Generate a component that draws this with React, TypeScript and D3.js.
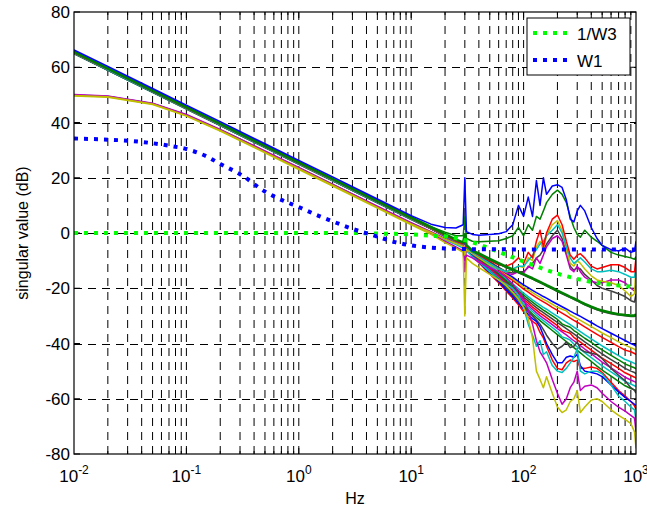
import React from 'react';
import * as d3 from 'd3';

// ---------- data ----------
const FREQ = [0.01,0.02,0.05,0.1,0.2,0.5,1,2,5,10,15,20,25,29,30,31,35,40,50,60,70,80,90,100,110,120,130,140,150,160,180,200,220,240,260,280,300,320,350,400,450,500,600,700,800,900,970,1000];

const TOP_BLUE = [66.3,60.3,52.3,46.3,40.3,32.3,26.3,20.3,12.3,6.3, 3.2,2.0,1.8,3.0,20,0.5,-0.5,-0.8,-0.5,-0.3, 0.5,3,10,6,13,6,19,10,20,14, 17,17.5,16.5,12,5,4,8,10,8,2, -2,-4.5,-6,-6.5,-5.5,-7,-6.5,-3];
const TOP_GREEN = [65.8,59.8,51.8,45.8,39.8,31.8,25.8,19.8,11.8,5.8, 2.3,0.3,-1.0,-1.0,6,-2.0,-3.0,-3.2,-3.0,-2.8, -2.0,-1.0,2,-1,3,1,6,5,8,11, 14,15.5,14,11,6,2,-0.5,-1.5,1,-1.5, -3,-4.5,-7,-8,-8.5,-9,-9.5,-8.5];
const THICK_A = [65.6,59.6,51.6,45.6,39.6,31.6,25.6,19.6,11.6,5.6, 2.1,-0.4,-2.4,-3.4,-0.5,-4.4,-6.4,-7.4,-9.4,-10.9, -12.2,-13.2,-14.1,-14.9,-15.7,-16.4,-17.1,-17.7,-18.3,-18.9, -19.9,-20.9,-21.7,-22.4,-23.1,-23.7,-24.3,-24.9,-25.7,-26.7, -27.5,-28.1,-28.9,-29.4,-29.7,-29.9,-29.9,-29.4];
const THICK_B = [65.4,59.4,51.4,45.4,39.4,31.4,25.4,19.4,11.4,5.4, 1.9,-0.6,-2.6,-3.6,-1.5,-4.6,-6.6,-7.7,-9.7,-11.2, -12.5,-13.5,-14.4,-15.2,-16,-16.7,-17.4,-18,-18.6,-19.2, -20.2,-21.2,-22,-22.7,-23.4,-24,-24.6,-25.2,-26,-27, -27.8,-28.4,-29.2,-29.7,-30,-30.2,-30.2,-29.8];

const BUNDLE_1 = [65.4,59.4,51.4,45.4,39.4,31.4,25.4,19.4,11.4,5.4, 2.0,-0.7,-2.9,-3.9,-2.5,-4.6, -6.5,-8,-10.5,-12.5,-14.5,-16,-17.5,-18.8,-19.8,-20.8, -21.6,-22.3,-23,-23.6,-24.8,-25.8,-26.7,-27.5,-28.3,-29, -29.6,-30.2,-31.1,-32.4,-33.6,-34.6,-36.3,-37.7,-38.9,-40, -40.6,-41];
const BUNDLE_7 = [65.3,59.3,51.3,45.3,39.3,31.3,25.3,19.3,11.3,5.3, 1.9,-0.8,-3.0,-4.0,-2.8,-4.7, -6.6,-8.2,-10.8,-12.9,-15,-16.6,-18.1,-19.5,-20.6,-21.6, -22.5,-23.2,-24,-24.6,-25.8,-26.9,-27.6,-28.2,-29.6,-30.3, -31,-31.6,-32.5,-33.9,-35.1,-36.2,-37.9,-39.4,-40.6,-41.5, -42.1,-42.5];
const BUNDLE_2 = [65.2,59.2,51.2,45.2,39.2,31.2,25.2,19.2,11.2,5.2, 1.9,-0.8,-3.0,-4.0,-3.0,-4.7, -6.8,-8.4,-11.1,-13.3,-15.5,-17.2,-18.8,-20.3,-21.4,-22.5, -23.4,-24.2,-24.9,-25.6,-26.9,-28,-29,-29.9,-30.8,-31.6, -32.3,-33,-34,-35.4,-36.7,-37.8,-39.6,-41.1,-42.4,-43, -43.6,-44];
const BUNDLE_3 = [65.0,59.0,51.0,45.0,39.0,31.0,25.0,19.0,11.0,5.0, 1.8,-0.9,-3.1,-4.1,-3.5,-4.8, -7.1,-8.8,-11.7,-14.1,-16.5,-18.4,-20.1,-21.8,-23,-24.2, -25.2,-26.1,-26.9,-27.6,-29,-30.2,-31.3,-32.3,-33.2,-34.1, -34.9,-35.7,-36.8,-38.3,-39.7,-40.9,-42.8,-44.4,-45.8,-46.6, -47.2,-47.5];
const BUNDLE_8 = [65.1,59.1,51.1,45.1,39.1,31.1,25.1,19.1,11.1,5.1, 1.7,-1.0,-3.2,-4.2,-3.2,-4.9, -7.2,-9,-12,-14.5,-17,-19,-20.8,-22.5,-23.8,-25, -26.1,-27,-27.9,-28.6,-30,-31.3,-32.9,-33.6,-34.1,-35.3, -36.1,-37,-38.1,-39.6,-41.1,-42.3,-44.3,-45.9,-47.4,-48.3, -48.8,-49.2];
const BUNDLE_4 = [65.3,59.3,51.3,45.3,39.3,31.3,25.3,19.3,11.3,5.3, 1.7,-1.0,-3.2,-4.2,-3.0,-4.9, -7.4,-9.2,-12.3,-14.9,-17.5,-19.6,-21.4,-23.3,-24.6,-25.9, -27,-28,-28.8,-29.6,-31.1,-32.4,-33.5,-34.6,-35.6,-36.5, -37.4,-38.2,-39.4,-41,-42.5,-43.8,-45.8,-47.5,-49,-50, -50.5,-51];
const BUNDLE_9 = [65.0,59.0,51.0,45.0,39.0,31.0,25.0,19.0,11.0,5.0, 1.6,-1.1,-3.3,-4.3,-3.8,-5.0, -7.5,-9.4,-12.6,-15.3,-18,-20.2,-22,-24,-25.4,-26.8, -27.9,-29,-29.8,-30.6,-32.2,-33.5,-35.2,-35.8,-36.3,-37.8, -38.7,-39.5,-40.7,-42.4,-43.9,-45.3,-47.3,-49,-50.6,-51.6, -52.2,-52.5];
const BUNDLE_5 = [65.1,59.1,51.1,45.1,39.1,31.1,25.1,19.1,11.1,5.1, 1.6,-1.1,-3.3,-4.3,-4.0,-5.0, -7.7,-9.6,-12.9,-15.7,-18.5,-20.8,-22.7,-24.8,-26.2,-27.6, -28.8,-29.9,-30.8,-31.6,-33.2,-34.6,-35.8,-36.9,-38,-39, -39.9,-40.8,-42,-43.7,-45.3,-46.7,-48.8,-50.6,-52.2,-53.2, -53.8,-54];
const BUNDLE_10 = [64.9,58.9,50.9,44.9,38.9,30.9,24.9,18.9,10.9,4.9, 1.5,-1.2,-3.4,-4.4,-3.6,-5.1, -7.8,-9.8,-13.2,-16.1,-19,-21.4,-23.4,-25.5,-27,-28.4, -29.7,-30.8,-31.7,-32.6,-34.2,-35.7,-37.6,-38.1,-38.8,-40.2, -41.2,-42.1,-43.3,-45.1,-46.7,-48.1,-50.3,-52.1,-53.7,-54.7, -55.3,-55.6];
const BUNDLE_6 = [64.9,58.9,50.9,44.9,38.9,30.9,24.9,18.9,10.9,4.9, 1.5,-1.2,-3.4,-4.4,-3.5,-5.1, -8,-10,-13.5,-16.5,-19.5,-22,-24,-26.3,-27.8,-29.3, -30.6,-31.7,-32.7,-33.6,-35.3,-36.8,-38.1,-39.3,-40.4,-41.5, -42.5,-43.4,-44.7,-46.5,-48.2,-49.6,-51.8,-53.7,-55.3,-56.3, -56.8,-57];

const GRAY_DIP = [65.0,59.0,51.0,45.0,39.0,31.0,25.0,19.0,11.0,5.0, 1.5,-1.2,-3.4,-4.4,-2,-5.2,-8.2,-10.3,-14,-17, -20,-22.5,-24.5,-26.8,-28.5,-30,-31.5,-33,-35,-37, -40,-42,-41,-39.5,-41.5,-41,-39.5,-42,-43,-43.5, -44,-45.5,-49,-51.5,-53.5,-56,-57,-58];
const RED_LOW = [65.2,59.2,51.2,45.2,39.2,31.2,25.2,19.2,11.2,5.2, 1.6,-1.1,-3.3,-4.3,-6,-5.3,-8.5,-10.8,-14.8,-18, -21,-23.5,-26,-28.5,-30.5,-32,-33,-36,-38,-41, -46,-49,-49.5,-47,-46,-46.5,-46,-49,-49,-48.5, -49,-50.5,-54,-57,-59,-61,-62.5,-64];
const BLUE_LOW = [65.4,59.4,51.4,45.4,39.4,31.4,25.4,19.4,11.4,5.4, 1.7,-1.0,-3.2,-4.2,-3,-5.2,-8.3,-10.5,-14.4,-17.5, -20.5,-23,-25.3,-27.5,-29.5,-31,-32,-34,-37,-40, -44,-47,-47,-45,-44.5,-45,-44,-48,-50,-50.5, -51,-52,-55,-57.5,-59.5,-61,-62,-62.5];
const CYAN_LOW = [50.0,49.5,46.9,42.8,37.4,29.6,23.6,17.6,9.6,3.6, 0.3,-2.5,-4.2,-5.5,-8,-6.5,-8.5,-10.5,-14,-17, -18.5,-20,-22.5,-27,-33,-37,-41,-39,-44,-43, -48,-50,-50.5,-49,-47,-45,-42,-50,-51,-50, -50,-51,-55,-59,-61,-63,-64,-68];
const MAG_LOW = [49.9,49.4,46.8,42.6,37.2,29.4,23.4,17.4,9.4,3.4, 0,-3.0,-5.0,-6.5,-14,-8,-9,-10.5,-12.5,-14, -16,-18.5,-21,-24,-28,-33,-39,-43,-45,-47, -53,-58,-62,-60,-56,-54,-50,-57,-55.5,-55, -56,-58,-61,-63,-64.5,-66,-67,-72];
const YEL_LOW = [49.6,49.1,46.5,42.3,36.9,29.0,23.0,17.0,9.0,3.0, -0.5,-3.5,-5.5,-7,-30,-9,-11,-12.5,-15,-17, -19,-21.5,-24,-27,-31,-38,-50,-53,-56,-52, -58,-63,-65,-64,-61,-60,-57,-65,-63,-60.5, -60,-61,-64,-66,-67.5,-69,-72,-78];

const RED_MID = [65.3,59.3,51.3,45.3,39.3,31.3,25.3,19.3,11.3,5.3, 1.8,-0.8,-3,-4,-2,-5,-6.5,-8,-10,-11.5, -12,-11,-9,-11,-7,-9,-3,1,-5,0, 5,6.5,3,-3,-8,-9.5,-8,-7.5,-9,-12, -13,-12.5,-11.5,-11.5,-12.5,-14,-14,-9];
const CYAN_MID = [65.1,59.1,51.1,45.1,39.1,31.1,25.1,19.1,11.1,5.1, 1.6,-1,-3.2,-4.2,-1,-5.2,-7,-8.5,-11,-13, -14,-13,-12,-12,-10,-8,-6,-4,-3,-1, 1,3,0,-5,-9,-11,-10,-9,-10.5,-13, -14,-14,-13.5,-14,-15,-16,-16,-12];
const YEL_MID = [49.8,49.3,46.7,42.5,37.1,29.3,23.3,17.3,9.3,3.3, 0.2,-2.2,-3.8,-4.8,-8,-6,-7.5,-9,-11.5,-13, -14,-13.5,-12,-12.5,-9,-10,-5,-3,-6,-1, 3,4.5,1,-6,-11,-12,-10,-11,-13,-15.5, -17,-17.5,-18,-19,-21,-23,-22,-12];
const MAG_MID = [50.1,49.6,47.0,42.9,37.5,29.7,23.7,17.7,9.7,3.7, 0.5,-2.0,-3.6,-4.6,-10,-6,-7.2,-8.8,-11,-13, -14.5,-15,-14,-14.5,-12,-13,-9,-11,-8,-5, -2,-1,-3,-8,-13,-14,-12,-14,-16,-17.5, -18,-18,-17,-17,-18,-20,-21,-19];
const GRAY_MID = [65.2,59.2,51.2,45.2,39.2,31.2,25.2,19.2,11.2,5.2, 1.7,-0.9,-3.1,-4.1,-2,-5.1,-6.8,-8.3,-10.5,-12.5, -14,-14.5,-14,-14,-12.5,-11,-9,-8,-6,-4, -1,1,-2,-7,-12,-13.5,-12.5,-13,-15,-17, -19,-20,-21,-22,-23,-24.5,-25,-22];

const W_FREQ = [0.01,0.02,0.03,0.05,0.07,0.1,0.15,0.2,0.3,0.5,0.7,1,1.5,2,3,5,7,10,15,20,30,50,70,100,150,200,300,500,700,1000];
const W1 = [34.2,33.8,33.4,32.5,31.6,30.4,27.8,25.0,21.3,15.0,12.0,9.4,6.2,4.2,1.5,-1.3,-3.2,-4.5,-5.3,-5.6,-5.8,-5.9,-5.9,-6,-6,-6,-6,-6,-6,-6];
const INV_W3 = [0,0,0,0,0,0,0,0,0,0,0,0,0,0,0,-0.2,-0.3,-0.5,-1.0,-1.2,-2.6,-5.6,-7.9,-10.3,-13,-14.7,-16.6,-18.3,-19,-19.5];

const Y_TICKS = [-80,-60,-40,-20,0,20,40,60,80];
const X_DECADES = [-2,-1,0,1,2,3];
const LEGEND_LABELS = ['1/W3', 'W1'];

// MATLAB default colour cycle
const C_B = '#0000ff', C_G = '#008000', C_R = '#ff0000', C_C = '#00bfbf', C_M = '#bf00bf', C_Y = '#bfbf00', C_K = '#404040';

const SIGMA_LINES: { v: number[]; c: string; w?: number }[] = [
  { v: BUNDLE_6, c: C_G }, { v: BUNDLE_10, c: C_C }, { v: BUNDLE_5, c: C_M }, { v: BUNDLE_9, c: C_R },
  { v: BUNDLE_4, c: C_K }, { v: BUNDLE_8, c: C_G }, { v: BUNDLE_3, c: C_C }, { v: BUNDLE_2, c: C_R },
  { v: BUNDLE_7, c: C_Y }, { v: BUNDLE_1, c: C_B },
  { v: GRAY_DIP, c: C_K }, { v: RED_LOW, c: C_R }, { v: BLUE_LOW, c: C_B },
  { v: CYAN_LOW, c: C_C }, { v: MAG_LOW, c: C_M }, { v: YEL_LOW, c: C_Y },
  { v: GRAY_MID, c: C_K }, { v: MAG_MID, c: C_M }, { v: YEL_MID, c: C_Y },
  { v: CYAN_MID, c: C_C }, { v: RED_MID, c: C_R },
  { v: THICK_B, c: C_K }, { v: THICK_A, c: C_G, w: 2.6 },
  { v: TOP_GREEN, c: C_G }, { v: TOP_BLUE, c: C_B },
];

const W = 647, H = 514;
const L = 74, R = 636, T = 12, B = 454;
const FONT = "'Liberation Sans', Arial, Helvetica, sans-serif";

export default function App() {
  const x = d3.scaleLog().domain([1e-2, 1e3]).range([L, R]);
  const y = d3.scaleLinear().domain([-80, 80]).range([B, T]);
  const mk = (fs: number[], curve = d3.curveLinear) =>
    d3.line<number>().x((_, i) => x(fs[i])).y((v) => y(v)).curve(curve);
  const sigLine = mk(FREQ);
  const wLine = mk(W_FREQ, d3.curveMonotoneX);

  const minor = x.ticks().filter((t) => t > 1e-2 * 1.001 && t < 1e3 * 0.999);
  const isMajor = (t: number) => Math.abs(Math.log10(t) - Math.round(Math.log10(t))) < 1e-6;
  const dash = '8,6';

  return (
    <svg width={W} height={H} style={{ position: 'absolute', left: 0, top: 0, background: '#fff' }} fontFamily={FONT}>
      <rect x={0} y={0} width={W} height={H} fill="#fff" />
      <defs>
        <clipPath id="plot"><rect x={L} y={T} width={R - L} height={B - T} /></clipPath>
      </defs>
      {/* grid */}
      <g stroke="#000" strokeWidth={1} strokeDasharray={dash} fill="none">
        {minor.map((t) => (
          <line key={'v' + t} x1={x(t)} x2={x(t)} y1={T} y2={B} />
        ))}
        {Y_TICKS.filter((v) => v > -80 && v < 80).map((v) => (
          <line key={'h' + v} x1={L} x2={R} y1={Math.round(y(v)) + 0.5} y2={Math.round(y(v)) + 0.5} />
        ))}
      </g>
      {/* ticks */}
      <g stroke="#000" strokeWidth={1}>
        {minor.map((t) => {
          const len = isMajor(t) ? 6 : 3;
          return (
            <g key={'t' + t}>
              <line x1={x(t)} x2={x(t)} y1={B} y2={B - len} />
              <line x1={x(t)} x2={x(t)} y1={T} y2={T + len} />
            </g>
          );
        })}
        {Y_TICKS.map((v) => (
          <g key={'yt' + v}>
            <line x1={L} x2={L + 6} y1={y(v)} y2={y(v)} />
            <line x1={R} x2={R - 6} y1={y(v)} y2={y(v)} />
          </g>
        ))}
      </g>
      {/* data */}
      <g clipPath="url(#plot)" fill="none" strokeLinejoin="round">
        {SIGMA_LINES.map((s, i) => (
          <path key={i} d={sigLine(s.v) || ''} stroke={s.c} strokeWidth={s.w ?? 1.5} />
        ))}
        <path d={wLine(INV_W3) || ''} stroke="#00ff00" strokeWidth={4} strokeDasharray="4,6" />
        <path d={wLine(W1) || ''} stroke="#0000ff" strokeWidth={4} strokeDasharray="4,6" />
      </g>
      {/* axes box */}
      <rect x={L} y={T} width={R - L} height={B - T} fill="none" stroke="#000" strokeWidth={1.2} />
      {/* y tick labels */}
      <g fontSize={17} textAnchor="end" fill="#000">
        {Y_TICKS.map((v) => (
          <text key={'yl' + v} x={L - 4} y={y(v)} dy="0.36em">{v}</text>
        ))}
      </g>
      {/* x tick labels */}
      <g fontSize={17} textAnchor="middle" fill="#000">
        {X_DECADES.map((e) => (
          <text key={'xl' + e} x={x(Math.pow(10, e))} y={482}>
            <tspan>10</tspan>
            <tspan dy={-8} fontSize={12}>{e}</tspan>
          </text>
        ))}
      </g>
      {/* axis labels */}
      <text x={355} y={504} fontSize={16} textAnchor="middle">Hz</text>
      <text transform={`translate(28,${(T + B) / 2}) rotate(-90)`} fontSize={16} textAnchor="middle">singular value (dB)</text>
      {/* legend */}
      <g>
        <rect x={527} y={18} width={103} height={57} fill="#fff" stroke="#000" strokeWidth={1} />
        <line x1={533} x2={569} y1={33} y2={33} stroke="#00ff00" strokeWidth={4} strokeDasharray="4,6" />
        <line x1={533} x2={569} y1={60} y2={60} stroke="#0000ff" strokeWidth={4} strokeDasharray="4,6" />
        <text x={577} y={40} fontSize={17}>{LEGEND_LABELS[0]}</text>
        <text x={577} y={67} fontSize={17}>{LEGEND_LABELS[1]}</text>
      </g>
    </svg>
  );
}
